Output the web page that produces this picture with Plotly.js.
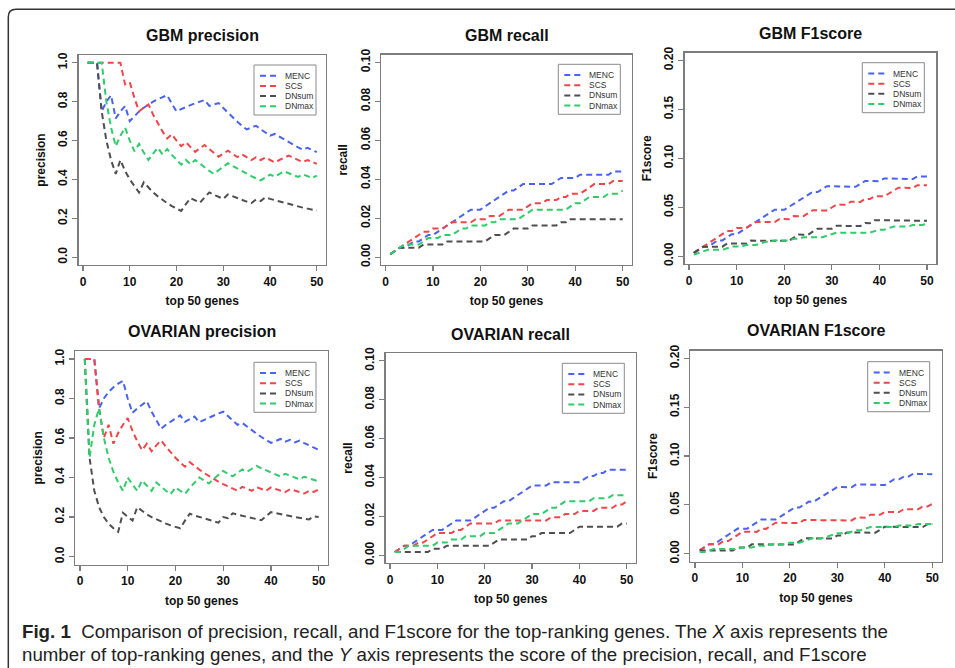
<!DOCTYPE html>
<html>
<head>
<meta charset="utf-8">
<script src="https://cdn.plot.ly/plotly-3.0.1.min.js"></script>
<style>html,body{margin:0;padding:0;background:#fff;}#chart{width:955px;height:668px;}</style>
</head>
<body>
<div id="chart"></div>
<script>
// ---------------- DATA ----------------
const topGenes = [1,2,3,4,5,6,7,8,9,10,11,12,13,14,15,16,17,18,19,20,21,22,23,24,25,26,27,28,29,30,31,32,33,34,35,36,37,38,39,40,41,42,43,44,45,46,47,48,49,50];
const methods = ['MENC','SCS','DNsum','DNmax'];
const xTickValues = [0,10,20,30,40,50];
const precisionTickValues = [0,0.2,0.4,0.6,0.8,1.0];
const precisionTickText = ['0.0','0.2','0.4','0.6','0.8','1.0'];
const recallTickValues = [0,0.02,0.04,0.06,0.08,0.10];
const recallTickText = ['0.00','0.02','0.04','0.06','0.08','0.10'];
const f1TickValues = [0,0.05,0.10,0.15,0.20];
const f1TickText = ['0.00','0.05','0.10','0.15','0.20'];
const panelTitles = ['GBM precision','GBM recall','GBM F1score','OVARIAN precision','OVARIAN recall','OVARIAN F1score'];
const yTitles = ['precision','recall','F1score','precision','recall','F1score'];
const xTitle = 'top 50 genes';

// GBM precision
const gbmPrecisionMENC = [1,1,1,0.75,0.8,0.833,0.714,0.75,0.778,0.7,0.727,0.75,0.769,0.786,0.8,0.813,0.824,0.833,0.789,0.75,0.762,0.773,0.783,0.792,0.8,0.808,0.778,0.786,0.793,0.767,0.742,0.719,0.697,0.676,0.657,0.667,0.676,0.658,0.641,0.625,0.634,0.619,0.605,0.591,0.578,0.565,0.553,0.563,0.551,0.54];
const gbmPrecisionSCS = [1,1,1,1,1,1,1,1,0.889,0.9,0.818,0.75,0.769,0.786,0.733,0.688,0.647,0.611,0.632,0.6,0.571,0.591,0.565,0.542,0.56,0.577,0.556,0.536,0.517,0.533,0.548,0.531,0.515,0.529,0.514,0.5,0.514,0.5,0.513,0.5,0.488,0.5,0.512,0.523,0.511,0.5,0.489,0.5,0.49,0.48];
const gbmPrecisionDNsum = [1,1,1,0.75,0.6,0.5,0.429,0.5,0.444,0.4,0.364,0.333,0.385,0.357,0.333,0.313,0.294,0.278,0.263,0.25,0.238,0.273,0.304,0.292,0.28,0.308,0.333,0.321,0.31,0.3,0.323,0.313,0.303,0.294,0.286,0.278,0.297,0.289,0.308,0.3,0.293,0.286,0.279,0.273,0.267,0.261,0.255,0.25,0.245,0.24];
const gbmPrecisionDNmax = [1,1,1,1,0.8,0.667,0.571,0.625,0.667,0.6,0.545,0.583,0.538,0.5,0.533,0.563,0.529,0.556,0.526,0.5,0.476,0.5,0.478,0.5,0.48,0.462,0.444,0.429,0.448,0.467,0.484,0.469,0.455,0.441,0.429,0.417,0.405,0.395,0.41,0.425,0.415,0.429,0.442,0.432,0.422,0.413,0.426,0.417,0.408,0.42];
// GBM recall
const gbmRecallMENC = [0.0016,0.0033,0.0049,0.0049,0.0065,0.0081,0.0081,0.0098,0.0114,0.0114,0.0130,0.0147,0.0163,0.0179,0.0195,0.0212,0.0228,0.0244,0.0244,0.0244,0.0261,0.0277,0.0293,0.0309,0.0326,0.0342,0.0342,0.0358,0.0375,0.0375,0.0375,0.0375,0.0375,0.0375,0.0375,0.0391,0.0407,0.0407,0.0407,0.0407,0.0423,0.0423,0.0423,0.0423,0.0423,0.0423,0.0423,0.0440,0.0440,0.0440];
const gbmRecallSCS = [0.0016,0.0033,0.0049,0.0065,0.0081,0.0098,0.0114,0.0130,0.0130,0.0147,0.0147,0.0147,0.0163,0.0179,0.0179,0.0179,0.0179,0.0179,0.0195,0.0195,0.0195,0.0212,0.0212,0.0212,0.0228,0.0244,0.0244,0.0244,0.0244,0.0261,0.0277,0.0277,0.0277,0.0293,0.0293,0.0293,0.0309,0.0309,0.0326,0.0326,0.0326,0.0342,0.0358,0.0375,0.0375,0.0375,0.0375,0.0391,0.0391,0.0391];
const gbmRecallDNsum = [0.0016,0.0033,0.0049,0.0049,0.0049,0.0049,0.0049,0.0065,0.0065,0.0065,0.0065,0.0065,0.0081,0.0081,0.0081,0.0081,0.0081,0.0081,0.0081,0.0081,0.0081,0.0098,0.0114,0.0114,0.0114,0.0130,0.0147,0.0147,0.0147,0.0147,0.0163,0.0163,0.0163,0.0163,0.0163,0.0163,0.0179,0.0179,0.0195,0.0195,0.0195,0.0195,0.0195,0.0195,0.0195,0.0195,0.0195,0.0195,0.0195,0.0195];
const gbmRecallDNmax = [0.0016,0.0033,0.0049,0.0065,0.0065,0.0065,0.0065,0.0081,0.0098,0.0098,0.0098,0.0114,0.0114,0.0114,0.0130,0.0147,0.0147,0.0163,0.0163,0.0163,0.0163,0.0179,0.0179,0.0195,0.0195,0.0195,0.0195,0.0195,0.0212,0.0228,0.0244,0.0244,0.0244,0.0244,0.0244,0.0244,0.0244,0.0244,0.0261,0.0277,0.0277,0.0293,0.0309,0.0309,0.0309,0.0309,0.0326,0.0326,0.0326,0.0342];
// GBM F1score
const gbmF1MENC = [0.0033,0.0065,0.0097,0.0097,0.0129,0.0161,0.0161,0.0193,0.0225,0.0224,0.0256,0.0288,0.0319,0.0350,0.0382,0.0413,0.0444,0.0475,0.0474,0.0473,0.0504,0.0535,0.0565,0.0596,0.0626,0.0656,0.0655,0.0685,0.0715,0.0714,0.0713,0.0712,0.0711,0.0710,0.0709,0.0738,0.0768,0.0767,0.0766,0.0765,0.0794,0.0793,0.0791,0.0790,0.0789,0.0788,0.0787,0.0816,0.0814,0.0813];
const gbmF1SCS = [0.0033,0.0065,0.0097,0.0129,0.0162,0.0194,0.0225,0.0257,0.0257,0.0288,0.0288,0.0288,0.0319,0.0350,0.0350,0.0349,0.0349,0.0348,0.0379,0.0379,0.0378,0.0409,0.0408,0.0408,0.0438,0.0469,0.0468,0.0467,0.0467,0.0497,0.0527,0.0526,0.0526,0.0556,0.0555,0.0554,0.0584,0.0583,0.0613,0.0612,0.0611,0.0640,0.0670,0.0699,0.0698,0.0697,0.0696,0.0725,0.0724,0.0723];
const gbmF1DNsum = [0.0033,0.0065,0.0097,0.0097,0.0097,0.0097,0.0097,0.0129,0.0128,0.0128,0.0128,0.0128,0.0159,0.0159,0.0159,0.0159,0.0158,0.0158,0.0158,0.0158,0.0157,0.0189,0.0220,0.0219,0.0219,0.0250,0.0281,0.0280,0.0280,0.0280,0.0310,0.0310,0.0309,0.0309,0.0308,0.0308,0.0338,0.0337,0.0368,0.0367,0.0366,0.0366,0.0365,0.0365,0.0364,0.0364,0.0363,0.0363,0.0362,0.0361];
const gbmF1DNmax = [0.0016,0.0033,0.0049,0.0065,0.0065,0.0065,0.0065,0.0081,0.0098,0.0098,0.0098,0.0114,0.0114,0.0114,0.0129,0.0146,0.0146,0.0161,0.0161,0.0161,0.0161,0.0177,0.0177,0.0193,0.0193,0.0193,0.0193,0.0193,0.0209,0.0225,0.0240,0.0240,0.0240,0.0240,0.0240,0.0240,0.0240,0.0240,0.0256,0.0271,0.0271,0.0287,0.0302,0.0302,0.0302,0.0302,0.0318,0.0318,0.0318,0.0333];
// OVARIAN precision
const ovPrecisionMENC = [1,1,1,0.75,0.8,0.833,0.857,0.875,0.889,0.8,0.727,0.75,0.769,0.786,0.733,0.688,0.647,0.667,0.684,0.7,0.714,0.682,0.696,0.708,0.68,0.692,0.704,0.714,0.724,0.733,0.71,0.688,0.667,0.676,0.657,0.639,0.622,0.605,0.59,0.575,0.585,0.595,0.581,0.591,0.578,0.587,0.574,0.563,0.551,0.54];
const ovPrecisionSCS = [1,1,1,0.75,0.6,0.667,0.571,0.625,0.667,0.7,0.636,0.583,0.538,0.571,0.533,0.563,0.588,0.556,0.526,0.5,0.476,0.455,0.478,0.458,0.44,0.423,0.407,0.393,0.379,0.367,0.355,0.344,0.333,0.353,0.343,0.333,0.351,0.342,0.333,0.35,0.341,0.333,0.326,0.341,0.333,0.326,0.319,0.333,0.327,0.34];
const ovPrecisionDNsum = [1,0.5,0.333,0.25,0.2,0.167,0.143,0.125,0.222,0.2,0.182,0.25,0.231,0.214,0.2,0.188,0.176,0.167,0.158,0.15,0.143,0.182,0.217,0.208,0.2,0.192,0.185,0.179,0.172,0.2,0.194,0.219,0.212,0.206,0.2,0.194,0.189,0.184,0.205,0.225,0.22,0.214,0.209,0.205,0.2,0.196,0.191,0.188,0.204,0.2];
const ovPrecisionDNmax = [1,0.5,0.667,0.75,0.6,0.5,0.429,0.375,0.333,0.4,0.364,0.333,0.385,0.357,0.333,0.375,0.353,0.333,0.316,0.35,0.333,0.318,0.348,0.375,0.4,0.385,0.37,0.393,0.414,0.433,0.419,0.406,0.424,0.441,0.429,0.444,0.459,0.447,0.436,0.425,0.415,0.405,0.419,0.409,0.4,0.391,0.404,0.396,0.388,0.38];
// OVARIAN recall
const ovRecallMENC = [0.0016,0.0033,0.0049,0.0049,0.0065,0.0081,0.0098,0.0114,0.0130,0.0130,0.0130,0.0147,0.0163,0.0179,0.0179,0.0179,0.0179,0.0195,0.0212,0.0228,0.0244,0.0244,0.0261,0.0277,0.0277,0.0293,0.0309,0.0326,0.0342,0.0358,0.0358,0.0358,0.0358,0.0375,0.0375,0.0375,0.0375,0.0375,0.0375,0.0375,0.0391,0.0407,0.0407,0.0423,0.0423,0.0440,0.0440,0.0440,0.0440,0.0440];
const ovRecallSCS = [0.0016,0.0033,0.0049,0.0049,0.0049,0.0065,0.0065,0.0081,0.0098,0.0114,0.0114,0.0114,0.0114,0.0130,0.0130,0.0147,0.0163,0.0163,0.0163,0.0163,0.0163,0.0163,0.0179,0.0179,0.0179,0.0179,0.0179,0.0179,0.0179,0.0179,0.0179,0.0179,0.0179,0.0195,0.0195,0.0195,0.0212,0.0212,0.0212,0.0228,0.0228,0.0228,0.0228,0.0244,0.0244,0.0244,0.0244,0.0261,0.0261,0.0277];
const ovRecallDNsum = [0.0016,0.0016,0.0016,0.0016,0.0016,0.0016,0.0016,0.0016,0.0033,0.0033,0.0033,0.0049,0.0049,0.0049,0.0049,0.0049,0.0049,0.0049,0.0049,0.0049,0.0049,0.0065,0.0081,0.0081,0.0081,0.0081,0.0081,0.0081,0.0081,0.0098,0.0098,0.0114,0.0114,0.0114,0.0114,0.0114,0.0114,0.0114,0.0130,0.0147,0.0147,0.0147,0.0147,0.0147,0.0147,0.0147,0.0147,0.0147,0.0163,0.0163];
const ovRecallDNmax = [0.0016,0.0016,0.0033,0.0049,0.0049,0.0049,0.0049,0.0049,0.0049,0.0065,0.0065,0.0065,0.0081,0.0081,0.0081,0.0098,0.0098,0.0098,0.0098,0.0114,0.0114,0.0114,0.0130,0.0147,0.0163,0.0163,0.0163,0.0179,0.0195,0.0212,0.0212,0.0212,0.0228,0.0244,0.0244,0.0261,0.0277,0.0277,0.0277,0.0277,0.0277,0.0277,0.0293,0.0293,0.0293,0.0293,0.0309,0.0309,0.0309,0.0309];
// OVARIAN F1score
const ovF1MENC = [0.0033,0.0065,0.0097,0.0097,0.0129,0.0161,0.0193,0.0225,0.0257,0.0256,0.0256,0.0288,0.0319,0.0350,0.0350,0.0349,0.0349,0.0380,0.0411,0.0442,0.0472,0.0472,0.0502,0.0533,0.0532,0.0563,0.0593,0.0623,0.0653,0.0683,0.0682,0.0681,0.0680,0.0710,0.0709,0.0708,0.0707,0.0706,0.0704,0.0703,0.0733,0.0762,0.0761,0.0790,0.0789,0.0818,0.0817,0.0816,0.0814,0.0813];
const ovF1SCS = [0.0033,0.0065,0.0097,0.0097,0.0097,0.0129,0.0129,0.0161,0.0193,0.0224,0.0224,0.0224,0.0223,0.0255,0.0254,0.0286,0.0317,0.0316,0.0316,0.0315,0.0315,0.0314,0.0345,0.0345,0.0344,0.0344,0.0343,0.0343,0.0342,0.0342,0.0341,0.0341,0.0340,0.0370,0.0370,0.0369,0.0399,0.0399,0.0398,0.0428,0.0427,0.0427,0.0426,0.0456,0.0455,0.0455,0.0454,0.0483,0.0483,0.0512];
const ovF1DNsum = [0.0033,0.0032,0.0032,0.0032,0.0032,0.0032,0.0032,0.0032,0.0064,0.0064,0.0064,0.0096,0.0096,0.0096,0.0095,0.0095,0.0095,0.0095,0.0095,0.0095,0.0094,0.0126,0.0157,0.0157,0.0157,0.0156,0.0156,0.0156,0.0156,0.0186,0.0186,0.0217,0.0216,0.0216,0.0216,0.0215,0.0215,0.0215,0.0245,0.0275,0.0275,0.0274,0.0274,0.0274,0.0273,0.0273,0.0272,0.0272,0.0302,0.0301];
const ovF1DNmax = [0.0016,0.0016,0.0033,0.0049,0.0049,0.0049,0.0049,0.0049,0.0049,0.0064,0.0064,0.0064,0.0081,0.0081,0.0081,0.0097,0.0097,0.0097,0.0097,0.0113,0.0113,0.0113,0.0129,0.0145,0.0161,0.0161,0.0161,0.0177,0.0193,0.0209,0.0209,0.0209,0.0225,0.0241,0.0241,0.0257,0.0273,0.0273,0.0273,0.0273,0.0273,0.0273,0.0289,0.0289,0.0289,0.0289,0.0304,0.0304,0.0304,0.0304];

// ---------------- LAYOUT / STYLE ----------------
const W = 955, H = 668;
const px = x => x / W;
const py = y => 1 - y / H;
const colors = {MENC:'#4a62f2', SCS:'#f2454a', DNsum:'#4f4f4f', DNmax:'#2fcc6a'};
const dashPat = '6px,4px';
const FONT = 'Liberation Sans, Arial, sans-serif';

const panelSeries = [
  [gbmPrecisionMENC, gbmPrecisionSCS, gbmPrecisionDNsum, gbmPrecisionDNmax],
  [gbmRecallMENC, gbmRecallSCS, gbmRecallDNsum, gbmRecallDNmax],
  [gbmF1MENC, gbmF1SCS, gbmF1DNsum, gbmF1DNmax],
  [ovPrecisionMENC, ovPrecisionSCS, ovPrecisionDNsum, ovPrecisionDNmax],
  [ovRecallMENC, ovRecallSCS, ovRecallDNsum, ovRecallDNmax],
  [ovF1MENC, ovF1SCS, ovF1DNsum, ovF1DNmax]
];
const yTicks = [
  [precisionTickValues, precisionTickText, 1.0],
  [recallTickValues, recallTickText, 0.10],
  [f1TickValues, f1TickText, 0.20],
  [precisionTickValues, precisionTickText, 1.0],
  [recallTickValues, recallTickText, 0.10],
  [f1TickValues, f1TickText, 0.20]
];
// plot boxes in pixels: [left, right, top, bottom]
const boxes = [
  [78.5, 326, 55, 265],
  [381, 632, 54.5, 265],
  [684.5, 936.3, 52.5, 264],
  [75.4, 328, 351, 564.5],
  [385.5, 636, 353, 563],
  [690.4, 941.6, 350.5, 561.5]
];
const titlePos = [[202.5,36],[506.7,35],[810,33.3],[201.5,331.7],[510.8,334],[816.2,330.7]];
const legendPos = [[254,65],[558.3,64.3],[862.3,62.7],[254,362.3],[562.3,363.3],[867.7,361.7]];

const data = [];
const layout = {
  width: W, height: H,
  margin: {l:0, r:0, t:0, b:0},
  paper_bgcolor: '#ffffff', plot_bgcolor: '#ffffff',
  showlegend: false,
  font: {family: FONT, color: '#000'},
  shapes: [], annotations: []
};

const axisCommon = {
  showgrid: false, zeroline: false, showline: true, mirror: true,
  linecolor: '#7d7d7d', linewidth: 1.3,
  ticks: 'outside', ticklen: 5, tickwidth: 1.2, tickcolor: '#7d7d7d',
  tickfont: {family: FONT, size: 12, weight: 'bold', color: '#111'},
  fixedrange: true
};

for (let i = 0; i < 6; i++) {
  const n = i + 1;
  const sfx = n === 1 ? '' : String(n);
  const [L, R, T, B] = boxes[i];
  layout['xaxis' + sfx] = Object.assign({}, axisCommon, {
    domain: [px(L), px(R)], anchor: 'y' + sfx,
    range: [-0.96, 51.96], tickvals: xTickValues,
    title: {text: xTitle, font: {family: FONT, size: 12, weight: 'bold', color: '#111'}, standoff: 9}
  });
  const [tv, tt, ymax] = yTicks[i];
  layout['yaxis' + sfx] = Object.assign({}, axisCommon, {
    domain: [py(B), py(T)], anchor: 'x' + sfx,
    range: [-0.04 * ymax, 1.04 * ymax], tickvals: tv, ticktext: tt, tickangle: -90,
    title: {text: yTitles[i], font: {family: FONT, size: 12, weight: 'bold', color: '#111'}, standoff: 8}
  });
  panelSeries[i].forEach((vals, k) => {
    data.push({
      type: 'scatter', mode: 'lines', name: methods[k],
      x: topGenes, y: vals, xaxis: 'x' + sfx, yaxis: 'y' + sfx,
      line: {color: colors[methods[k]], width: 2, dash: dashPat},
      hoverinfo: 'skip'
    });
  });
  // panel title
  layout.annotations.push({
    text: '<b>' + panelTitles[i] + '</b>', xref: 'paper', yref: 'paper',
    x: px(titlePos[i][0]), y: py(titlePos[i][1]), xanchor: 'center', yanchor: 'middle',
    showarrow: false, font: {family: FONT, size: 16, color: '#111'}
  });
  // legend box (compact, as in the original R legend)
  const [lx, ly] = legendPos[i];
  layout.shapes.push({
    type: 'rect', xref: 'paper', yref: 'paper',
    x0: px(lx), x1: px(lx + 62), y0: py(ly + 50), y1: py(ly),
    line: {color: '#8a8a8a', width: 1}, fillcolor: '#ffffff', layer: 'above'
  });
  methods.forEach((m, k) => {
    const ey = ly + 10.8 + k * 10.15;
    layout.shapes.push({
      type: 'line', xref: 'paper', yref: 'paper',
      x0: px(lx + 6), x1: px(lx + 24), y0: py(ey), y1: py(ey),
      line: {color: colors[m], width: 2, dash: dashPat}, layer: 'above'
    });
    layout.annotations.push({
      text: m, xref: 'paper', yref: 'paper', x: px(lx + 29), y: py(ey),
      xanchor: 'left', yanchor: 'middle', showarrow: false,
      font: {family: FONT, size: 8.5, color: '#333'}
    });
  });
}

// outer figure frame (rounded top-left corner)
layout.shapes.push({
  type: 'path', xref: 'paper', yref: 'paper',
  path: `M ${px(960)},${py(9.3)} L ${px(16)},${py(9.3)} Q ${px(8.3)},${py(9.3)} ${px(8.3)},${py(17)} L ${px(8.3)},${py(672)}`,
  line: {color: '#333333', width: 1.5}
});

// caption
const CAP_FONT = 'Liberation Sans Narrow, Arial Narrow, Liberation Sans, sans-serif';
layout.annotations.push({
  text: '<b>Fig. 1</b>  Comparison of precision, recall, and F1score for the top-ranking genes. The <i>X</i> axis represents the',
  xref: 'paper', yref: 'paper', x: px(20), y: py(631.5), xanchor: 'left', yanchor: 'middle',
  showarrow: false, font: {family: CAP_FONT, size: 18.7, color: '#222'}
});
layout.annotations.push({
  text: 'number of top-ranking genes, and the <i>Y</i> axis represents the score of the precision, recall, and F1score',
  xref: 'paper', yref: 'paper', x: px(20), y: py(654.5), xanchor: 'left', yanchor: 'middle',
  showarrow: false, font: {family: CAP_FONT, size: 18.7, color: '#222'}
});

Plotly.newPlot('chart', data, layout, {staticPlot: true, displayModeBar: false});
</script>
</body>
</html>
